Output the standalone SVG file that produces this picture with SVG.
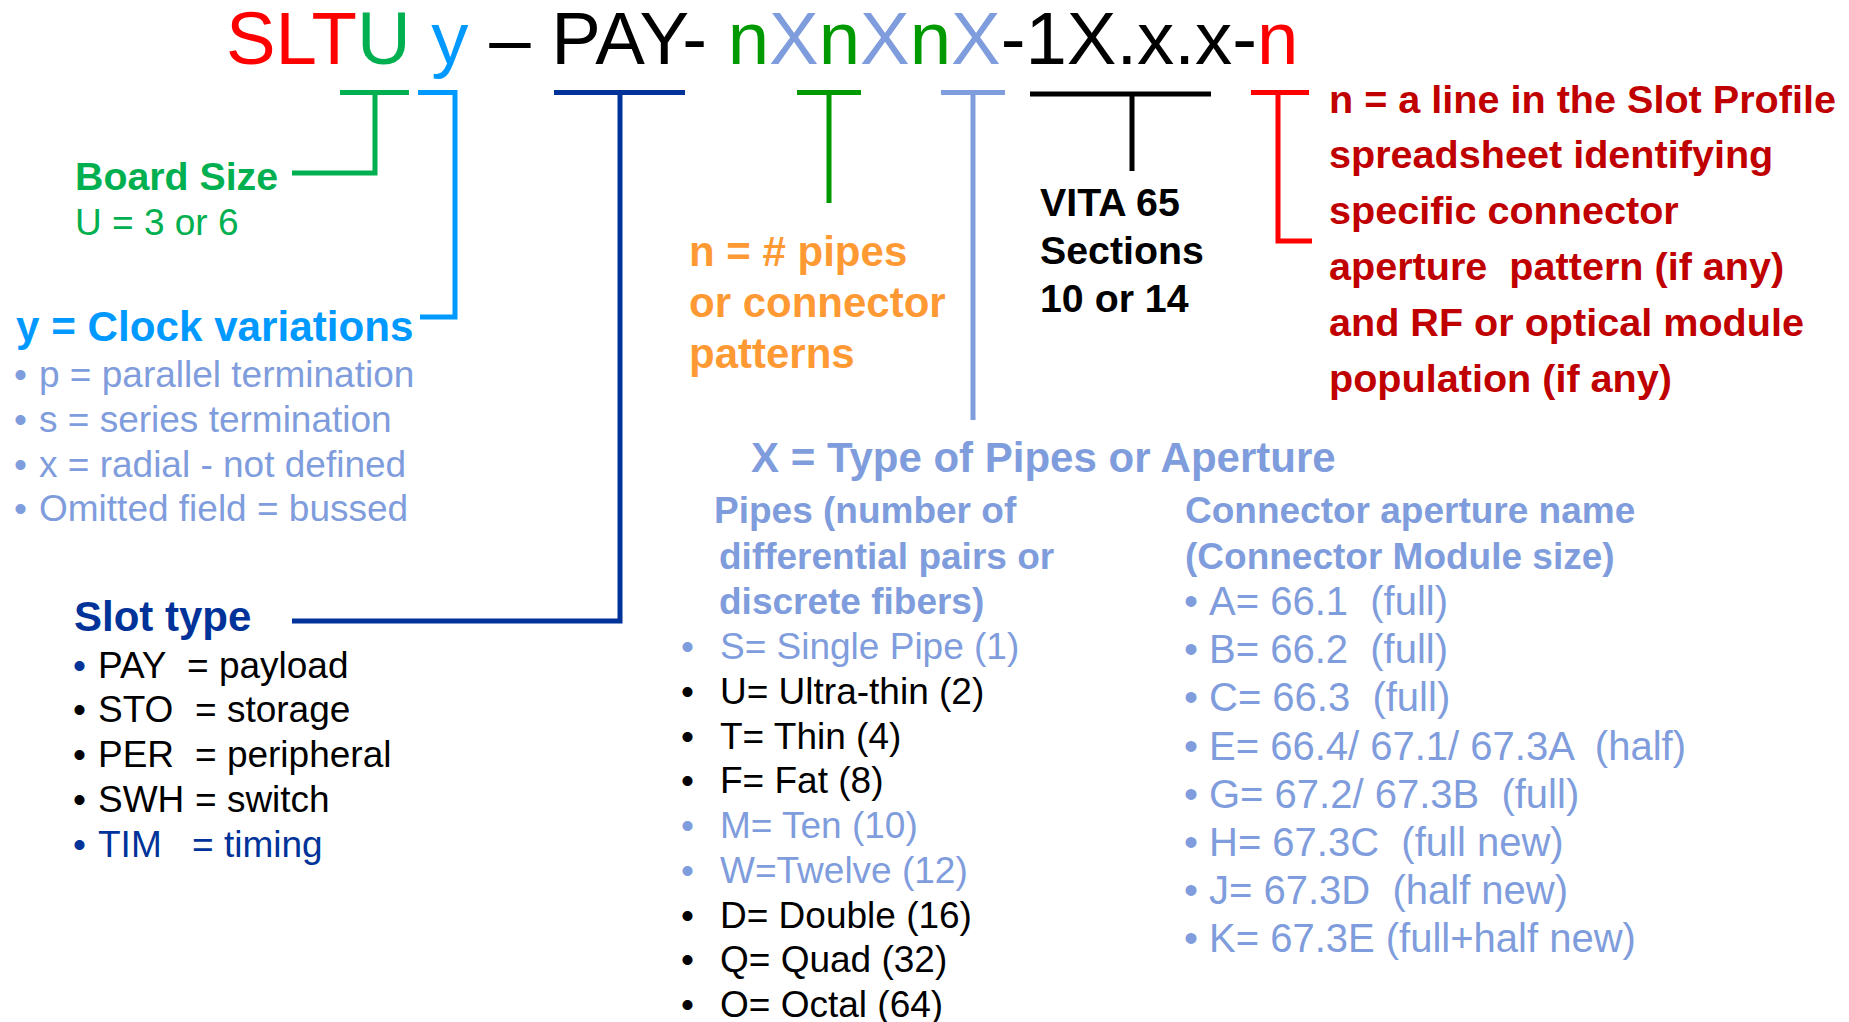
<svg xmlns="http://www.w3.org/2000/svg" width="1849" height="1022" viewBox="0 0 1849 1022">
<style>
text{font-family:"Liberation Sans",Arial,sans-serif;white-space:pre;}
.b{font-weight:bold;}
.lav{fill:#7F9DDC;}
.blk{fill:#000;}
.dk{fill:#003399;}
.red{fill:#C00000;}
.org{fill:#FF9933;}
.t37{font-size:37px;}
.t40{font-size:40px;}
.t42{font-size:42px;}
.br{fill:none;stroke-width:5;stroke-linecap:butt;stroke-linejoin:miter;}
</style>
<rect width="1849" height="1022" fill="#fff"/>

<g id="title">
<text x="226" y="64" font-size="74.4" xml:space="preserve"><tspan fill="#FF0000">SLT</tspan><tspan fill="#00B050">U</tspan><tspan fill="#0099FF"> y</tspan><tspan fill="#000"> – PAY- </tspan><tspan fill="#009900">n</tspan><tspan fill="#7F9DDC">X</tspan><tspan fill="#009900">n</tspan><tspan fill="#7F9DDC">X</tspan><tspan fill="#009900">n</tspan><tspan fill="#7F9DDC">X</tspan><tspan fill="#000">-1X.x.x-</tspan><tspan fill="#FF0000">n</tspan></text>
</g>

<g id="connectors">
<path class="br" stroke="#00B050" d="M340,92.5 H409 M375,92.5 V173 H292"/>
<path class="br" stroke="#0099FF" d="M418,92.5 H455 V317 H420"/>
<path class="br" stroke="#003399" d="M554,92.5 H685 M620,92.5 V621 H292"/>
<path class="br" stroke="#009900" d="M797,92.5 H861 M829,92.5 V203"/>
<path class="br" stroke="#7F9DDC" d="M941,92.5 H1005 M973,92.5 V420"/>
<path class="br" stroke="#000" stroke-width="7" d="M1030,94 H1211"/>
<path class="br" stroke="#000" d="M1132,94 V171"/>
<path class="br" stroke="#FF0000" d="M1251,92.5 H1309 M1278,92.5 V241 H1312"/>
</g>

<g id="board-size">
<text class="b" x="75" y="190" font-size="39.3" fill="#00B050">Board Size</text>
<text x="75" y="235" font-size="37" fill="#00B050">U = 3 or 6</text>
</g>

<g id="clock-variations">
<text class="b" x="16" y="341" font-size="42.2" fill="#0099FF">y = Clock variations</text>
<g class="lav t37">
<text x="14" y="387">•</text><text x="39" y="387">p = parallel termination</text>
<text x="14" y="432">•</text><text x="39" y="432">s = series termination</text>
<text x="14" y="477">•</text><text x="39" y="477">x = radial - not defined</text>
<text x="14" y="521">•</text><text x="39" y="521">Omitted field = bussed</text>
</g>
</g>

<g id="slot-type">
<text class="b dk t42" x="74" y="631">Slot type</text>
<g class="t37">
<text class="dk" x="73" y="678">•</text><text class="blk" x="98" y="678">PAY</text><text class="blk" x="187" y="678">= payload</text>
<text class="blk" x="73" y="722">•</text><text class="blk" x="98" y="722">STO</text><text class="blk" x="195" y="722">= storage</text>
<text class="blk" x="73" y="767">•</text><text class="blk" x="98" y="767">PER</text><text class="blk" x="195" y="767">= peripheral</text>
<text class="blk" x="73" y="812">•</text><text class="blk" x="98" y="812">SWH</text><text class="blk" x="195" y="812">= switch</text>
<text class="dk" x="73" y="857">•</text><text class="dk" x="98" y="857">TIM</text><text class="dk" x="192" y="857">= timing</text>
</g>
</g>

<g id="n-pipes">
<text class="b org t42" x="689" y="266">n = # pipes</text>
<text class="b org t42" x="689" y="317">or connector</text>
<text class="b org t42" x="689" y="368">patterns</text>
</g>

<g id="vita65">
<text class="b blk" font-size="39.3" x="1040" y="216">VITA 65</text>
<text class="b blk" font-size="39.3" x="1040" y="264">Sections</text>
<text class="b blk" font-size="39.3" x="1040" y="312">10 or 14</text>
</g>

<g id="slot-profile">
<g class="b red" font-size="39.6">
<text x="1329" y="113">n = a line in the Slot Profile</text>
<text x="1329" y="168">spreadsheet identifying</text>
<text x="1329" y="224">specific connector</text>
<text x="1329" y="280" xml:space="preserve">aperture  pattern (if any)</text>
<text x="1329" y="336">and RF or optical module</text>
<text x="1329" y="392">population (if any)</text>
</g>
</g>

<g id="x-type">
<text class="b lav t42" x="751" y="472">X = Type of Pipes or Aperture</text>
</g>

<g id="pipes">
<g class="b lav t37">
<text x="714" y="523">Pipes (number of</text>
<text x="719" y="569">differential pairs or</text>
<text x="719" y="614">discrete fibers)</text>
</g>
<g class="t37">
<text class="lav" x="681" y="659">•</text><text class="lav" x="720" y="659">S= Single Pipe (1)</text>
<text class="blk" x="681" y="704">•</text><text class="blk" x="720" y="704">U= Ultra-thin (2)</text>
<text class="blk" x="681" y="749">•</text><text class="blk" x="720" y="749">T= Thin (4)</text>
<text class="blk" x="681" y="793">•</text><text class="blk" x="720" y="793">F= Fat (8)</text>
<text class="lav" x="681" y="838">•</text><text class="lav" x="720" y="838">M= Ten (10)</text>
<text class="lav" x="681" y="883">•</text><text class="lav" x="720" y="883">W=Twelve (12)</text>
<text class="blk" x="681" y="928">•</text><text class="blk" x="720" y="928">D= Double (16)</text>
<text class="blk" x="681" y="972">•</text><text class="blk" x="720" y="972">Q= Quad (32)</text>
<text class="blk" x="681" y="1017">•</text><text class="blk" x="720" y="1017">O= Octal (64)</text>
</g>
</g>

<g id="connector-aperture">
<g class="b lav t37">
<text x="1185" y="523">Connector aperture name</text>
<text x="1185" y="569">(Connector Module size)</text>
</g>
<g class="lav t40">
<text x="1184" y="615">•</text><text x="1209" y="615" xml:space="preserve">A= 66.1  (full)</text>
<text x="1184" y="663">•</text><text x="1209" y="663" xml:space="preserve">B= 66.2  (full)</text>
<text x="1184" y="711">•</text><text x="1209" y="711" xml:space="preserve">C= 66.3  (full)</text>
<text x="1184" y="760">•</text><text x="1209" y="760" xml:space="preserve">E= 66.4/ 67.1/ 67.3A  (half)</text>
<text x="1184" y="808">•</text><text x="1209" y="808" xml:space="preserve">G= 67.2/ 67.3B  (full)</text>
<text x="1184" y="856">•</text><text x="1209" y="856" xml:space="preserve">H= 67.3C  (full new)</text>
<text x="1184" y="904">•</text><text x="1209" y="904" xml:space="preserve">J= 67.3D  (half new)</text>
<text x="1184" y="952">•</text><text x="1209" y="952" xml:space="preserve">K= 67.3E (full+half new)</text>
</g>
</g>
</svg>
